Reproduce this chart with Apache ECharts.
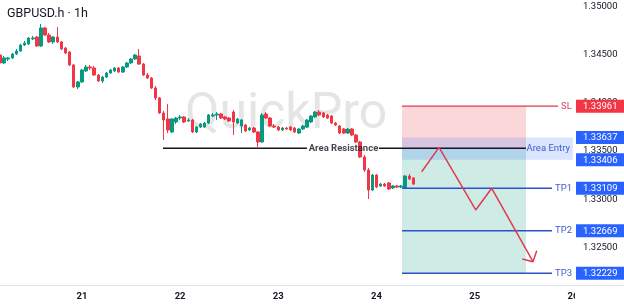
<!DOCTYPE html>
<html><head><meta charset="utf-8">
<script src="https://cdn.jsdelivr.net/npm/echarts@6/dist/echarts.min.js"></script>
<style>html,body{margin:0;padding:0;background:#fff}#c{width:624px;height:307px}</style>
</head><body><div id="c"></div>
<script>
// ---------- DATA ----------
const opens = [1.34492,1.34409,1.34450,1.34461,1.34502,1.34533,1.34595,1.34606,1.34658,1.34678,
1.34585,1.34772,1.34699,1.34627,1.34678,1.34627,1.34564,1.34523,1.34388,1.34160,
1.34212,1.34326,1.34367,1.34357,1.34284,1.34222,1.34263,1.34305,1.34326,1.34357,
1.34315,1.34367,1.34409,1.34450,1.34481,1.34398,1.34284,1.34253,1.34149,1.34046,
1.33890,1.33828,1.33693,1.33797,1.33838,1.33849,1.33807,1.33817,1.33693,1.33745,
1.33745,1.33786,1.33859,1.33869,1.33880,1.33849,1.33838,1.33900,1.33786,1.33755,
1.33766,1.33714,1.33734,1.33693,1.33589,1.33880,1.33838,1.33755,1.33745,1.33714,
1.33734,1.33745,1.33734,1.33682,1.33724,1.33745,1.33797,1.33849,1.33900,1.33890,
1.33869,1.33859,1.33786,1.33755,1.33724,1.33682,1.33724,1.33662,1.33589,1.33434,
1.33299,1.33091,1.33247,1.33133,1.33153,1.33164,1.33112,1.33133,1.33122,1.33112,
1.33236,1.33216];
const closes = [1.34409,1.34461,1.34461,1.34502,1.34533,1.34595,1.34616,1.34668,1.34668,1.34585,
1.34772,1.34699,1.34627,1.34678,1.34627,1.34554,1.34512,1.34388,1.34160,1.34212,
1.34336,1.34367,1.34357,1.34284,1.34222,1.34263,1.34305,1.34336,1.34357,1.34315,
1.34367,1.34409,1.34450,1.34492,1.34398,1.34284,1.34253,1.34149,1.34046,1.33890,
1.33817,1.33714,1.33828,1.33838,1.33849,1.33797,1.33817,1.33693,1.33745,1.33776,
1.33786,1.33869,1.33869,1.33880,1.33838,1.33828,1.33807,1.33797,1.33828,1.33817,
1.33703,1.33734,1.33693,1.33589,1.33869,1.33838,1.33755,1.33745,1.33714,1.33734,
1.33724,1.33714,1.33693,1.33724,1.33755,1.33817,1.33859,1.33900,1.33869,1.33849,
1.33838,1.33786,1.33766,1.33682,1.33682,1.33724,1.33662,1.33589,1.33434,1.33299,
1.33091,1.33247,1.33122,1.33153,1.33133,1.33102,1.33133,1.33122,1.33133,1.33236,
1.33205,1.33153];
const lows = [1.34398,1.34398,1.34429,1.34450,1.34492,1.34523,1.34585,1.34595,1.34647,1.34575,
1.34575,1.34689,1.34616,1.34606,1.34616,1.34544,1.34502,1.34378,1.34149,1.34139,
1.34201,1.34315,1.34336,1.34274,1.34212,1.34201,1.34253,1.34294,1.34315,1.34305,
1.34305,1.34357,1.34398,1.34440,1.34388,1.34274,1.34243,1.34139,1.34025,1.33880,
1.33610,1.33682,1.33682,1.33776,1.33817,1.33786,1.33797,1.33682,1.33682,1.33734,
1.33734,1.33776,1.33849,1.33817,1.33828,1.33817,1.33797,1.33662,1.33776,1.33682,
1.33693,1.33703,1.33682,1.33537,1.33579,1.33828,1.33745,1.33734,1.33703,1.33703,
1.33714,1.33703,1.33682,1.33672,1.33714,1.33734,1.33786,1.33838,1.33859,1.33838,
1.33828,1.33776,1.33755,1.33672,1.33672,1.33672,1.33651,1.33579,1.33423,1.33278,
1.32998,1.33081,1.33112,1.33122,1.33122,1.33091,1.33102,1.33112,1.33112,1.33102,
1.33195,1.33143];
const highs = [1.34512,1.34481,1.34471,1.34512,1.34554,1.34606,1.34637,1.34678,1.34689,1.34689,
1.34813,1.34782,1.34720,1.34689,1.34782,1.34637,1.34575,1.34533,1.34398,1.34222,
1.34346,1.34388,1.34388,1.34378,1.34294,1.34274,1.34315,1.34346,1.34367,1.34367,
1.34378,1.34419,1.34461,1.34502,1.34554,1.34409,1.34305,1.34263,1.34170,1.34056,
1.33911,1.33983,1.33838,1.33849,1.33869,1.33859,1.33838,1.33828,1.33755,1.33786,
1.33797,1.33880,1.33890,1.33900,1.33890,1.33859,1.33849,1.33921,1.33838,1.33828,
1.33776,1.33745,1.33745,1.33703,1.33890,1.33900,1.33849,1.33776,1.33755,1.33745,
1.33745,1.33755,1.33745,1.33734,1.33766,1.33828,1.33869,1.33911,1.33921,1.33900,
1.33880,1.33869,1.33797,1.33766,1.33734,1.33734,1.33734,1.33672,1.33600,1.33454,
1.33320,1.33257,1.33257,1.33164,1.33164,1.33174,1.33143,1.33143,1.33143,1.33247,
1.33257,1.33226];

// hourly slots: first candle = day 20, 04:00 ; 141 slots through day 26 00:00
const firstDay = 20, firstHour = 4, slotCount = 141;
const categories = [];
for (let k = 0; k < slotCount; k++) {
  const t = firstHour + k;
  categories.push((firstDay + Math.floor(t / 24)) + ' ' + String(t % 24).padStart(2, '0') + ':00');
}

const yTicks = [1.35, 1.345, 1.34, 1.335, 1.33, 1.325];
const badgeValues = [1.33961, 1.33637, 1.33406, 1.33109, 1.32669, 1.32229];

const levelNames = ['SL', 'TP1', 'TP2', 'TP3'];
const levelPrices = [1.33961, 1.33109, 1.32669, 1.32229];
const levelEnds = [136.35, 134.89, 134.89, 134.89];   // slot index where each line ends
const entryTop = 1.33637, entryBottom = 1.33406, entryEnd = 140.0;
const resistance = 1.33525;
const resistSegments = [[39.82, 75.0], [92.6, 128.53]];
const resistLabelAt = 83.93;
const zoneStart = 98.23, zoneEnd = 128.53;
const pathX = [103.04, 107.27, 116.24, 120.15, 130.24];
const pathY = [1.33281, 1.33534, 1.32884, 1.33109, 1.32348];
const headX = [127.63, 130.24, 131.15];
const headY = [1.32376, 1.32348, 1.32462];

// ---------- CHART ----------
const FONT = 'Roboto';
const chart = echarts.init(document.getElementById('c'), null, {renderer: 'canvas'});
const candles = opens.map((o, i) => [o, closes[i], lows[i], highs[i]]);
const zip = (xs, ys) => xs.map((x, i) => [x, ys[i]]);

const series = [];
// zones
series.push({
  type: 'line', xAxisIndex: 1, yAxisIndex: 0, z: 1, silent: true,
  data: [[zoneStart, resistance]], symbol: 'none', lineStyle: {opacity: 0},
  markArea: {
    silent: true,
    data: [
      [{coord: [zoneStart, levelPrices[0]], itemStyle: {color: 'rgba(242,54,69,0.2)'}}, {coord: [zoneEnd, resistance]}],
      [{coord: [zoneStart, resistance], itemStyle: {color: 'rgba(8,153,129,0.2)'}}, {coord: [zoneEnd, levelPrices[3]]}],
      [{name: 'Area Entry', coord: [zoneStart, entryTop], itemStyle: {color: 'rgba(41,98,255,0.17)'},
        label: {show: true, position: 'insideRight', distance: 3, formatter: 'Area Entry', color: '#3d5ccf', fontSize: 9.5, fontFamily: FONT}},
       {coord: [entryEnd, entryBottom]}]
    ]
  }
});
// candles
series.push({
  type: 'candlestick', xAxisIndex: 0, yAxisIndex: 0, z: 3, barWidth: 3,
  data: candles,
  itemStyle: {color: '#089981', color0: '#f23645', borderColor: '#089981', borderColor0: '#f23645', borderWidth: 1}
});
// resistance line segments
resistSegments.forEach(seg => series.push({
  type: 'line', xAxisIndex: 1, yAxisIndex: 0, z: 4, symbol: 'none', silent: true,
  data: [[seg[0], resistance], [seg[1], resistance]],
  lineStyle: {color: '#131722', width: 1.5}
}));
series.push({
  type: 'scatter', xAxisIndex: 1, yAxisIndex: 0, z: 5, symbolSize: 1, silent: true,
  itemStyle: {color: 'rgba(0,0,0,0)'},
  data: [[resistLabelAt, resistance]],
  label: {show: true, position: 'inside', formatter: 'Area Resistance', color: '#131722', fontWeight: 'bold', fontSize: 9.5, fontFamily: FONT}
});
// SL / TP lines
levelNames.forEach((nm, i) => series.push({
  type: 'line', xAxisIndex: 1, yAxisIndex: 0, z: 4, symbol: 'none', silent: true,
  data: [[zoneStart, levelPrices[i]], [levelEnds[i], levelPrices[i]]],
  lineStyle: {color: i === 0 ? '#e2364a' : '#2f51c8', width: i === 0 ? 1.2 : 1.5},
  endLabel: {show: true, formatter: nm, distance: 3, color: i === 0 ? '#d9455e' : '#3d5ccf', fontSize: 9.5, fontFamily: FONT}
}));
// arrow path
series.push({
  type: 'line', xAxisIndex: 1, yAxisIndex: 0, z: 6, symbol: 'none', silent: true,
  data: zip(pathX, pathY), lineStyle: {color: '#e03b4e', width: 1.5}
});
series.push({
  type: 'line', xAxisIndex: 1, yAxisIndex: 0, z: 6, symbol: 'none', silent: true,
  data: zip(headX, headY), lineStyle: {color: '#e03b4e', width: 1.5}
});

const richBase = {fontSize: 9.5, lineHeight: 10, fontFamily: FONT, padding: [2, 7, 1, 7]};

chart.setOption({
  animation: false,
  backgroundColor: '#ffffff',
  textStyle: {fontFamily: FONT},
  title: {text: 'GBPUSD.h · 1h', left: 7, top: 7, padding: 0,
    textStyle: {fontSize: 12.5, fontWeight: 'normal', color: '#131722', fontFamily: FONT}},
  grid: {left: -2, right: 49, top: 0, bottom: 22, containLabel: false, outerBoundsMode: 'none'},
  xAxis: [
    {type: 'category', data: categories, boundaryGap: true,
      axisLine: {show: false}, axisTick: {show: false}, splitLine: {show: false},
      axisLabel: {
        interval: (idx, val) => val.endsWith(' 00:00'),
        formatter: val => val.split(' ')[0],
        margin: 7, color: '#131722', fontSize: 9.5, fontWeight: 'bold', fontFamily: FONT
      }},
    {type: 'value', min: -0.5, max: slotCount - 0.5, show: false}
  ],
  yAxis: [
    {type: 'value', position: 'right', min: 1.32106, max: 1.35062, scale: true,
      axisLine: {show: false}, axisTick: {show: false}, splitLine: {show: false},
      axisLabel: {customValues: yTicks, margin: 1,
        formatter: v => '{p|' + v.toFixed(5) + '}',
        rich: {p: Object.assign({color: '#131722'}, richBase)}}},
    {type: 'value', position: 'right', min: 1.32106, max: 1.35062, scale: true, z: 2,
      axisLine: {show: false}, axisTick: {show: false}, splitLine: {show: false},
      axisLabel: {customValues: badgeValues, margin: 1,
        formatter: v => {
          const i = badgeValues.findIndex(b => Math.abs(b - v) < 1e-7);
          return '{' + (i === 0 ? 'r' : 'b') + '|' + v.toFixed(5) + '}';
        },
        rich: {
          r: Object.assign({color: '#ffffff', backgroundColor: '#f23645'}, richBase),
          b: Object.assign({color: '#ffffff', backgroundColor: '#2962ff'}, richBase)
        }}}
  ],
  graphic: [
    {type: 'text', z: 0, silent: true, style: {x: 185, y: 115, text: 'QuickPro', fill: '#e5e5e5',
      font: '50px Roboto', textVerticalAlign: 'middle', textAlign: 'left'}},
    {type: 'rect', zlevel: 5, z: 100, silent: true, shape: {x: 575, y: 286, width: 49, height: 21}, style: {fill: '#ffffff'}},
    {type: 'line', zlevel: 5, z: 100, silent: true, shape: {x1: 0, y1: 285.5, x2: 624, y2: 285.5}, style: {stroke: '#e0e3eb', lineWidth: 1}}
  ],
  series: series
});
</script></body></html>
